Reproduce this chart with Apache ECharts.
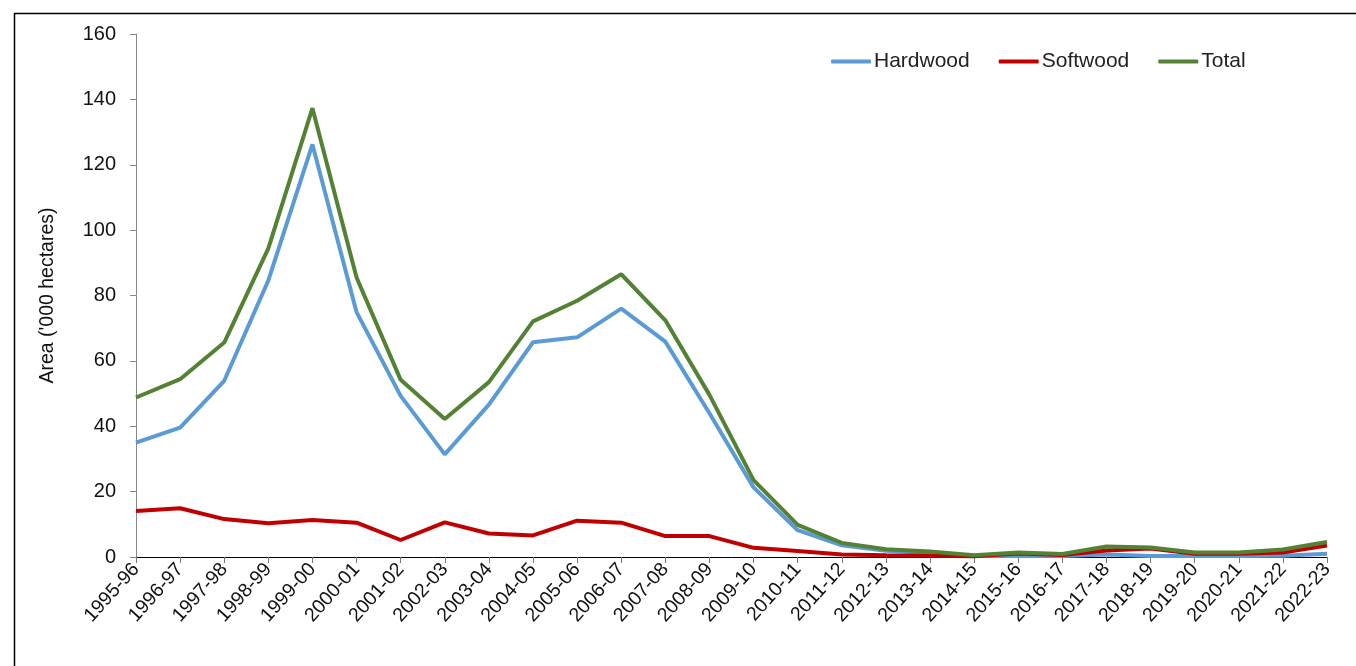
<!DOCTYPE html>
<html>
<head>
<meta charset="utf-8">
<script src="https://cdn.jsdelivr.net/npm/echarts@6/dist/echarts.min.js"></script>
<style>
html,body{margin:0;padding:0;background:#fff;}
#chart{width:1356px;height:666px;}
</style>
</head>
<body>
<div id="chart"></div>
<script>
const categories = ['1995-96','1996-97','1997-98','1998-99','1999-00','2000-01','2001-02','2002-03','2003-04','2004-05','2005-06','2006-07','2007-08','2008-09','2009-10','2010-11','2011-12','2012-13','2013-14','2014-15','2015-16','2016-17','2017-18','2018-19','2019-20','2020-21','2021-22','2022-23'];
const hardwood = [35.0,39.6,53.9,84.6,126.2,74.9,49.3,31.4,46.6,65.7,67.2,76.0,65.9,44.0,21.3,8.2,3.6,1.9,1.3,0.3,0.3,0.3,0.8,0.3,0.3,0.3,0.4,1.0];
const softwood = [14.1,14.9,11.6,10.3,11.3,10.5,5.2,10.6,7.2,6.6,11.1,10.5,6.4,6.4,2.8,1.8,0.8,0.5,0.4,0.2,1.1,0.6,2.0,2.6,1.0,1.0,1.4,3.5];
const total = [48.8,54.4,65.6,94.4,137.3,85.5,54.2,42.2,53.5,72.1,78.4,86.5,72.4,49.6,23.5,9.8,4.3,2.4,1.7,0.5,1.4,0.9,3.2,2.9,1.4,1.4,2.3,4.6];
const yTicks = [0,20,40,60,80,100,120,140,160];

const FONT = '"Liberation Sans", Arial, sans-serif';
const chart = echarts.init(document.getElementById('chart'));
chart.setOption({
  animation: false,
  backgroundColor: '#fff',
  graphic: [{
    type: 'rect', left: 12, top: 11, z: -1,
    shape: { width: 1400, height: 700 },
    style: { fill: 'none', stroke: '#000', lineWidth: 1.5 }
  }],
  legend: {
    top: 46, left: 826,
    itemWidth: 40, itemHeight: 4, itemGap: 29,
    icon: 'roundRect',
    textStyle: { fontFamily: FONT, fontSize: 21, color: '#222', padding: [0,0,0,-2] },
    data: ['Hardwood','Softwood','Total']
  },
  grid: { left: 136, right: 29, top: 34, bottom: 109, containLabel: false },
  xAxis: {
    type: 'category', data: categories, boundaryGap: false,
    axisLine: { lineStyle: { color: '#000', width: 1 } },
    axisTick: { show: true, length: 6, alignWithLabel: true, lineStyle: { color: '#777' } },
    axisLabel: { rotate: 48, interval: 0, fontFamily: FONT, fontSize: 19.5, color: '#111', margin: 9 }
  },
  yAxis: {
    type: 'value', min: 0, max: 160, interval: 20,
    name: "Area ('000 hectares)", nameLocation: 'middle', nameGap: 78,
    nameTextStyle: { fontFamily: FONT, fontSize: 19.5, color: '#111' },
    axisLine: { show: true, lineStyle: { color: '#888' } },
    axisTick: { show: true, length: 6, inside: false, lineStyle: { color: '#888' } },
    splitLine: { show: false },
    axisLabel: { fontFamily: FONT, fontSize: 20, color: '#111', margin: 20,
      formatter: v => yTicks.includes(v) ? String(v) : '' }
  },
  series: [
    { name: 'Hardwood', type: 'line', data: hardwood, showSymbol: false, symbol: 'none',
      lineStyle: { width: 4, color: '#5B9BD5' }, itemStyle: { color: '#5B9BD5' }, z: 3 },
    { name: 'Softwood', type: 'line', data: softwood, showSymbol: false, symbol: 'none',
      lineStyle: { width: 4, color: '#C00000' }, itemStyle: { color: '#C00000' }, z: 4 },
    { name: 'Total', type: 'line', data: total, showSymbol: false, symbol: 'none',
      lineStyle: { width: 4, color: '#548235' }, itemStyle: { color: '#548235' }, z: 5 }
  ]
});
</script>
</body>
</html>
